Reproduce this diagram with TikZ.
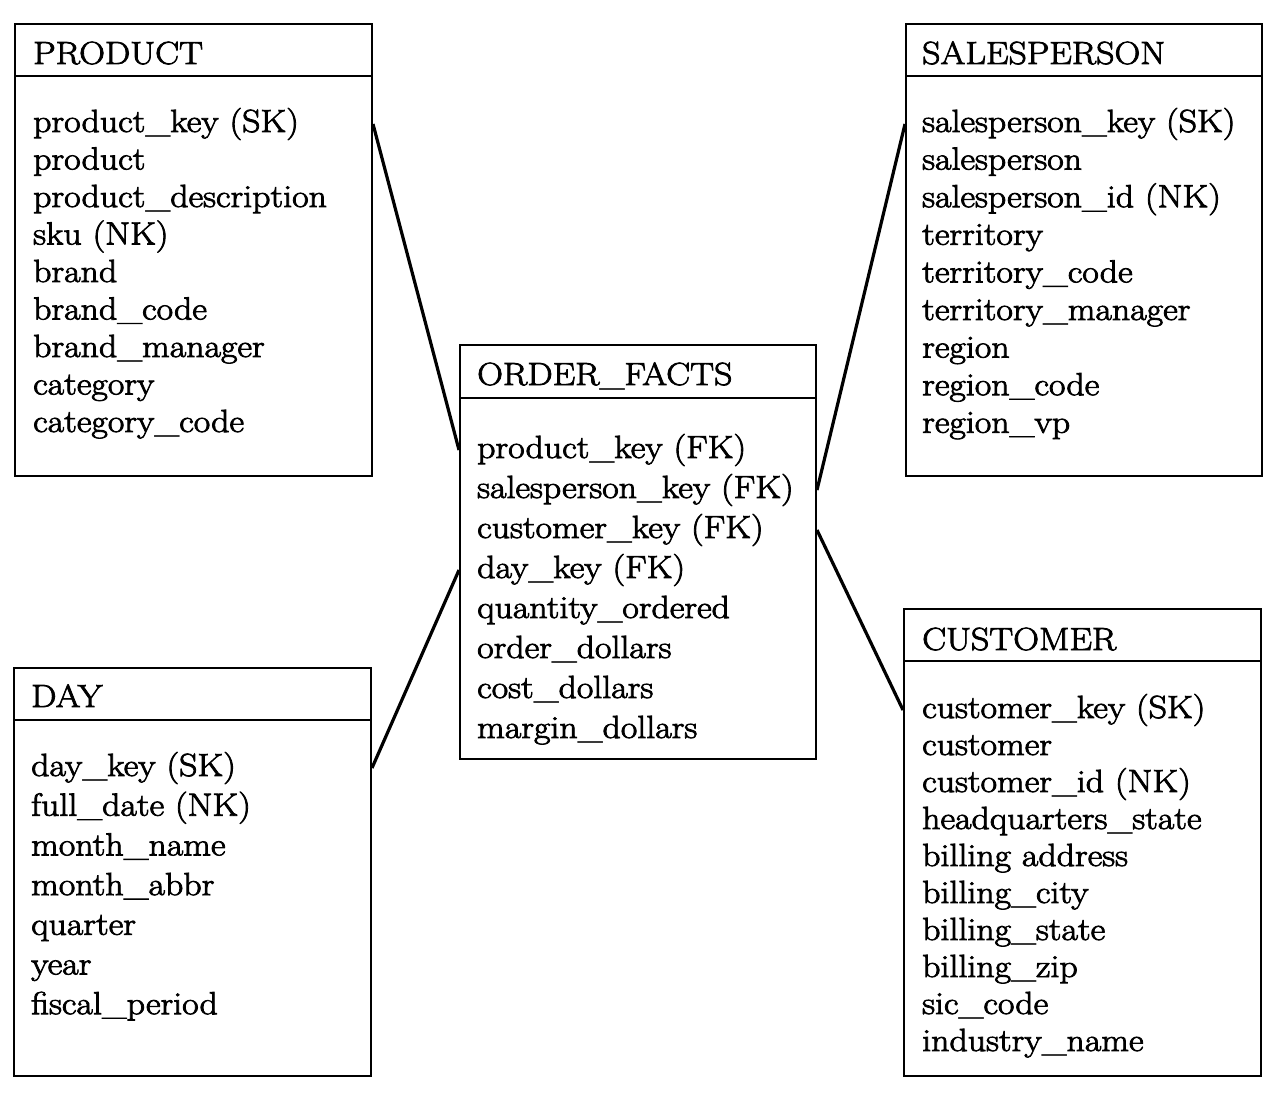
\documentclass[tikz,border=0pt]{standalone}
\usepackage{fontspec}
\setmainfont{Latin Modern Roman}[FakeStretch=1.12, FakeBold=2.5]
\newcommand\fldfont{\fontsize{32}{38}\selectfont}
\tikzset{
  tbl/.style={draw, line width=2pt, anchor=north west, inner sep=0pt},
  fld/.style={anchor=base west, inner sep=0pt, font=\fldfont},
  hdr/.style={line width=2pt},
  link/.style={line width=3.2pt}
}
\begin{document}
\begin{tikzpicture}[x=1pt,y=-1pt]
\useasboundingbox (0,0) rectangle (1278,1094);
% PRODUCT
\node[tbl, minimum width=357pt, minimum height=452pt] (prod) at (14,23) {};
\draw[hdr] (prod.west |- 0,76) -- (prod.east |- 0,76);
\node[fld] (prodT) at (33,64) {PRODUCT};
\node[fld] (p1) at (33,132) {product\_key (SK)};
\node[fld] (p2) at (33,169.5) {product};
\node[fld] (p3) at (33,207) {product\_description};
\node[fld] (p4) at (33,244.5) {sku (NK)};
\node[fld] (p5) at (33,282) {brand};
\node[fld] (p6) at (33,319.5) {brand\_code};
\node[fld] (p7) at (33,357) {brand\_manager};
\node[fld] (p8) at (33,394.5) {category};
\node[fld] (p9) at (33,432) {category\_code};
% SALESPERSON
\node[tbl, minimum width=356pt, minimum height=452pt] (sp) at (905,23) {};
\draw[hdr] (sp.west |- 0,76) -- (sp.east |- 0,76);
\node[fld] (spT) at (922,64) {SALESPERSON};
\node[fld] (s1) at (922,132) {salesperson\_key (SK)};
\node[fld] (s2) at (922,169.6) {salesperson};
\node[fld] (s3) at (922,207.2) {salesperson\_id (NK)};
\node[fld] (s4) at (922,244.8) {territory};
\node[fld] (s5) at (922,282.4) {territory\_code};
\node[fld] (s6) at (922,320) {territory\_manager};
\node[fld] (s7) at (922,357.6) {region};
\node[fld] (s8) at (922,395.2) {region\_code};
\node[fld] (s9) at (922,432.8) {region\_vp};
% ORDER_FACTS
\node[tbl, minimum width=356pt, minimum height=414pt] (of) at (459,344) {};
\draw[hdr] (of.west |- 0,398) -- (of.east |- 0,398);
\node[fld] (ofT) at (477,385) {ORDER\_FACTS};
\node[fld] (o1) at (477,458) {product\_key (FK)};
\node[fld] (o2) at (477,498) {salesperson\_key (FK)};
\node[fld] (o3) at (477,538) {customer\_key (FK)};
\node[fld] (o4) at (477,578) {day\_key (FK)};
\node[fld] (o5) at (477,618) {quantity\_ordered};
\node[fld] (o6) at (477,658) {order\_dollars};
\node[fld] (o7) at (477,698) {cost\_dollars};
\node[fld] (o8) at (477,738) {margin\_dollars};
% DAY
\node[tbl, minimum width=357pt, minimum height=408pt] (day) at (13,667) {};
\draw[hdr] (day.west |- 0,720) -- (day.east |- 0,720);
\node[fld] (dayT) at (31,707) {DAY};
\node[fld] (d1) at (31,776) {day\_key (SK)};
\node[fld] (d2) at (31,815.7) {full\_date (NK)};
\node[fld] (d3) at (31,855.4) {month\_name};
\node[fld] (d4) at (31,895.1) {month\_abbr};
\node[fld] (d5) at (31,934.8) {quarter};
\node[fld] (d6) at (31,974.5) {year};
\node[fld] (d7) at (31,1014.2) {fiscal\_period};
% CUSTOMER
\node[tbl, minimum width=357pt, minimum height=467pt] (cu) at (903,608) {};
\draw[hdr] (cu.west |- 0,661) -- (cu.east |- 0,661);
\node[fld] (cuT) at (922,650) {CUSTOMER};
\node[fld] (c1) at (922,718) {customer\_key (SK)};
\node[fld] (c2) at (922,755) {customer};
\node[fld] (c3) at (922,792) {customer\_id (NK)};
\node[fld] (c4) at (922,829) {headquarters\_state};
\node[fld] (c5) at (922,866) {billing address};
\node[fld] (c6) at (922,903) {billing\_city};
\node[fld] (c7) at (922,940) {billing\_state};
\node[fld] (c8) at (922,977) {billing\_zip};
\node[fld] (c9) at (922,1014) {sic\_code};
\node[fld] (c10) at (922,1051) {industry\_name};
% connectors
\draw[link] (p1.center -| prod.east) -- (o1.center -| of.west);
\draw[link] (s1.center -| sp.west) -- (o2.center -| of.east);
\draw[link] (c1.center -| cu.west) -- (o3.center -| of.east);
\draw[link] (d1.center -| day.east) -- (o4.center -| of.west);
\end{tikzpicture}
\end{document}
